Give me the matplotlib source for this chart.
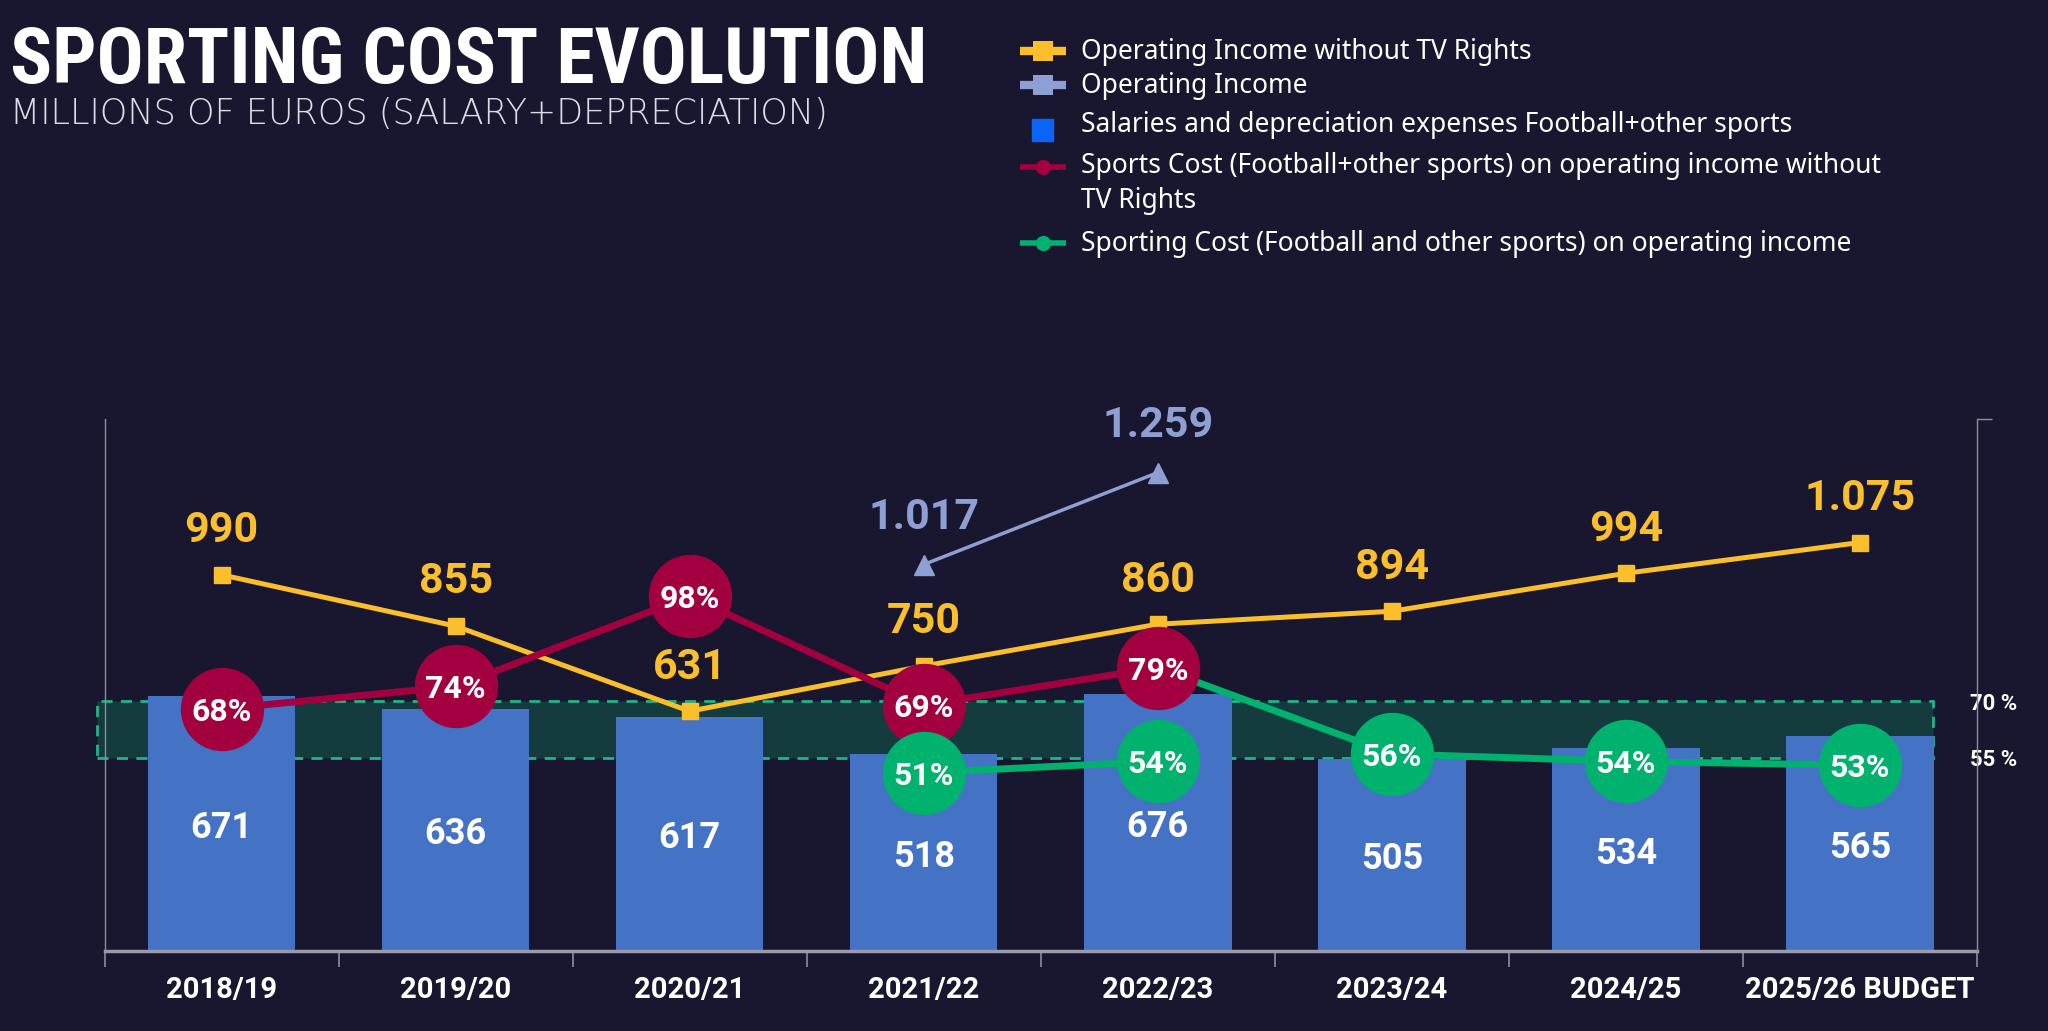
import matplotlib
matplotlib.use('Agg')
import matplotlib.pyplot as plt
import matplotlib.transforms as mtransforms
from matplotlib.lines import Line2D
from matplotlib.patches import Rectangle
import numpy as np

# Data (millions of euros / %)
seasons = ['2018/19', '2019/20', '2020/21', '2021/22', '2022/23', '2023/24', '2024/25', '2025/26 BUDGET']
salaries = [671, 636, 617, 518, 676, 505, 534, 565]
income_no_tv = [990, 855, 631, 750, 860, 894, 994, 1075]
op_income_seasons = ['2021/22', '2022/23']
op_income = [1017, 1259]
cost_no_tv_seasons = ['2018/19', '2019/20', '2020/21', '2021/22', '2022/23']
cost_no_tv = [68, 74, 98, 69, 79]
cost_seasons = ['2021/22', '2022/23', '2023/24', '2024/25', '2025/26 BUDGET']
cost = [51, 54, 56, 54, 53]
target_band = [55, 70]

# Colours
BG = '#19172f'
YELLOW = '#fbbf2c'
LIGHTBLUE = '#8e9fd3'
BAR = '#4472c4'
LEGBLUE = '#0a64f7'
RED = '#a3003f'
GREEN = '#00b26e'
GRAY = '#8e8d9e'

NUM_FONT = ['Roboto', 'DejaVu Sans']
TXT_FONT = ['Noto Sans', 'DejaVu Sans']
TITLE_FONT = ['Liberation Sans Narrow', 'Roboto Condensed', 'Open Sans Condensed', 'DejaVu Sans']
W, H = 2048, 1031


def eu(v):
    return f'{v:,}'.replace(',', '.')


def fx(px):
    return px / W


def fy(py):
    return 1 - py / H


fig = plt.figure(figsize=(W / 100, H / 100), dpi=100, facecolor=BG)

ax = fig.add_axes([fx(104.5), fy(951), fx(1977 - 104.5), (951 - 419) / H])
ax.set_facecolor('none')
ax.set_xlim(-0.5, 7.5)
ax.set_ylim(0, 1400)
ax2 = ax.twinx()
ax2.set_ylim(3.45, 145.3)

x = np.arange(len(seasons))
pos = {s: i for i, s in enumerate(seasons)}

# target band 55-70 %
blend = mtransforms.blended_transform_factory(ax.transData, ax2.transData)
band = Rectangle((-0.534, target_band[0]), 7.31 + 0.534, target_band[1] - target_band[0],
                 transform=blend, facecolor='#143b3e', edgecolor='#20b487',
                 linestyle=(0, (4, 3)), linewidth=2, zorder=1, clip_on=False)
ax.add_patch(band)

# bars
ax.bar(x, salaries, width=0.63, color=BAR, zorder=2)
for xi, v in zip(x, salaries):
    ax.text(xi, v / 2, str(v), ha='center', va='center_baseline', color='white',
            fontsize=26, fontweight='bold', family=NUM_FONT, zorder=6)

# operating income without TV rights
ax.plot(x, income_no_tv, color=YELLOW, lw=3.6, marker='s', ms=12, zorder=4)
for xi, v in zip(x, income_no_tv):
    ax.annotate(eu(v), (xi, v), xytext=(0, 35), textcoords='offset points',
                ha='center', va='center_baseline', color=YELLOW, fontsize=31,
                fontweight='bold', family=NUM_FONT, zorder=6)

# operating income
xo = [pos[s] for s in op_income_seasons]
ax.plot(xo, op_income, color=LIGHTBLUE, lw=2.5, marker='^', ms=14, zorder=4)
for xi, v in zip(xo, op_income):
    ax.annotate(eu(v), (xi, v), xytext=(0, 37), textcoords='offset points',
                ha='center', va='center_baseline', color=LIGHTBLUE, fontsize=31,
                fontweight='bold', family=NUM_FONT, zorder=6)

# sporting cost percentages
xr = [pos[s] for s in cost_no_tv_seasons]
xg = [pos[s] for s in cost_seasons]
ax2.plot(xr, cost_no_tv, color=RED, lw=5, zorder=3)
ax2.plot(xg[:2], cost[:2], color=GREEN, lw=5, zorder=3)
ax2.plot([xr[-1]] + xg[2:], [cost_no_tv[-1]] + cost[2:], color=GREEN, lw=5, zorder=3)
ax2.plot(xr, cost_no_tv, ls='none', marker='o', ms=60, color=RED, mew=0, zorder=4)
ax2.plot(xg, cost, ls='none', marker='o', ms=60, color=GREEN, mew=0, zorder=5)
for xi, v in zip(xr, cost_no_tv):
    ax2.text(xi, v, f'{v}%', ha='center', va='center_baseline', color='white',
             fontsize=23, fontweight='bold', family=NUM_FONT, zorder=7)
for xi, v in zip(xg, cost):
    ax2.text(xi, v, f'{v}%', ha='center', va='center_baseline', color='white',
             fontsize=23, fontweight='bold', family=NUM_FONT, zorder=7)

# axes styling
for s in ['top', 'right']:
    ax.spines[s].set_visible(False)
for s in ['top', 'left', 'bottom']:
    ax2.spines[s].set_visible(False)
ax.spines['left'].set_color(GRAY)
ax.spines['left'].set_linewidth(1)
ax.spines['bottom'].set_color('#9b9aab')
ax.spines['bottom'].set_linewidth(2.5)
ax2.spines['right'].set_color(GRAY)
ax2.spines['right'].set_linewidth(1)

ax.set_yticks([])
ax.set_xticks(np.arange(-0.5, 8, 1))
ax.set_xticklabels([])
ax.set_xticks(x, minor=True)
ax.set_xticklabels(seasons, minor=True)
ax.tick_params(axis='x', which='major', length=11.5, width=1.2, color=GRAY, direction='out')
ax.tick_params(axis='x', which='minor', length=0, pad=18, labelsize=21, labelcolor='white')
for t in ax.get_xticklabels(minor=True):
    t.set_fontweight('bold')
    t.set_family(NUM_FONT)

ax2.set_yticks(target_band)
ax2.set_yticklabels([f'{v} %' for v in target_band])
ax2.set_yticks([145.3], minor=True)
ax2.tick_params(axis='y', which='major', length=0, pad=-5, labelsize=16, labelcolor='white')
ax2.tick_params(axis='y', which='minor', length=11, width=1, color=GRAY)
for t in ax2.get_yticklabels():
    t.set_fontweight('bold')
    t.set_family(NUM_FONT)

# title
renderer = fig.canvas.get_renderer()
title = fig.text(fx(10), fy(83), 'SPORTING COST EVOLUTION', ha='left', va='baseline',
                 color='white', fontsize=60, fontweight='bold',
                 family=TITLE_FONT, fontstretch='condensed')
title.set_fontsize(60 * 917 / title.get_window_extent(renderer).width)
sub = fig.text(fx(10), fy(124), 'MILLIONS OF EUROS (SALARY+DEPRECIATION)', ha='left',
               va='baseline', color='#dcdce6', fontsize=20, fontweight='light',
               family=['DejaVu Sans', 'Noto Sans'])
sub.set_fontsize(20 * 817 / sub.get_window_extent(renderer).width)

# legend (drawn by hand so the handle sits on the first text line)
# last value: baseline of the last text line
legend_rows = [
    ('line_s', YELLOW, 'Operating Income without TV Rights', 51, 59),
    ('line_s', LIGHTBLUE, 'Operating Income', 85, 93),
    ('rect', LEGBLUE, 'Salaries and depreciation expenses Football+other sports', 130, 132),
    ('line_o', RED, 'Sports Cost (Football+other sports) on operating income without\nTV Rights', 167, 208),
    ('line_o', GREEN, 'Sporting Cost (Football and other sports) on operating income', 243, 251),
]
for kind, col, label, hy, base in legend_rows:
    if kind == 'rect':
        fig.add_artist(Rectangle((fx(1032), fy(hy + 11)), fx(21), 22 / H,
                                 transform=fig.transFigure, color=col))
    else:
        lw = 6 if kind == 'line_s' else 4
        fig.add_artist(Line2D([fx(1020), fx(1066)], [fy(hy), fy(hy)], transform=fig.transFigure,
                              color=col, lw=lw, solid_capstyle='butt'))
        fig.add_artist(Line2D([fx(1043)], [fy(hy)], transform=fig.transFigure, color=col,
                              marker='s' if kind == 'line_s' else 'o', ms=15 if kind == 'line_s' else 11,
                              mew=0))
    fig.text(fx(1081), fy(base), label, ha='left', va='baseline', color='white',
             fontsize=19, family=TXT_FONT, linespacing=1.35)

fig.savefig('out.png', dpi=100, facecolor=BG)
print('saved')
